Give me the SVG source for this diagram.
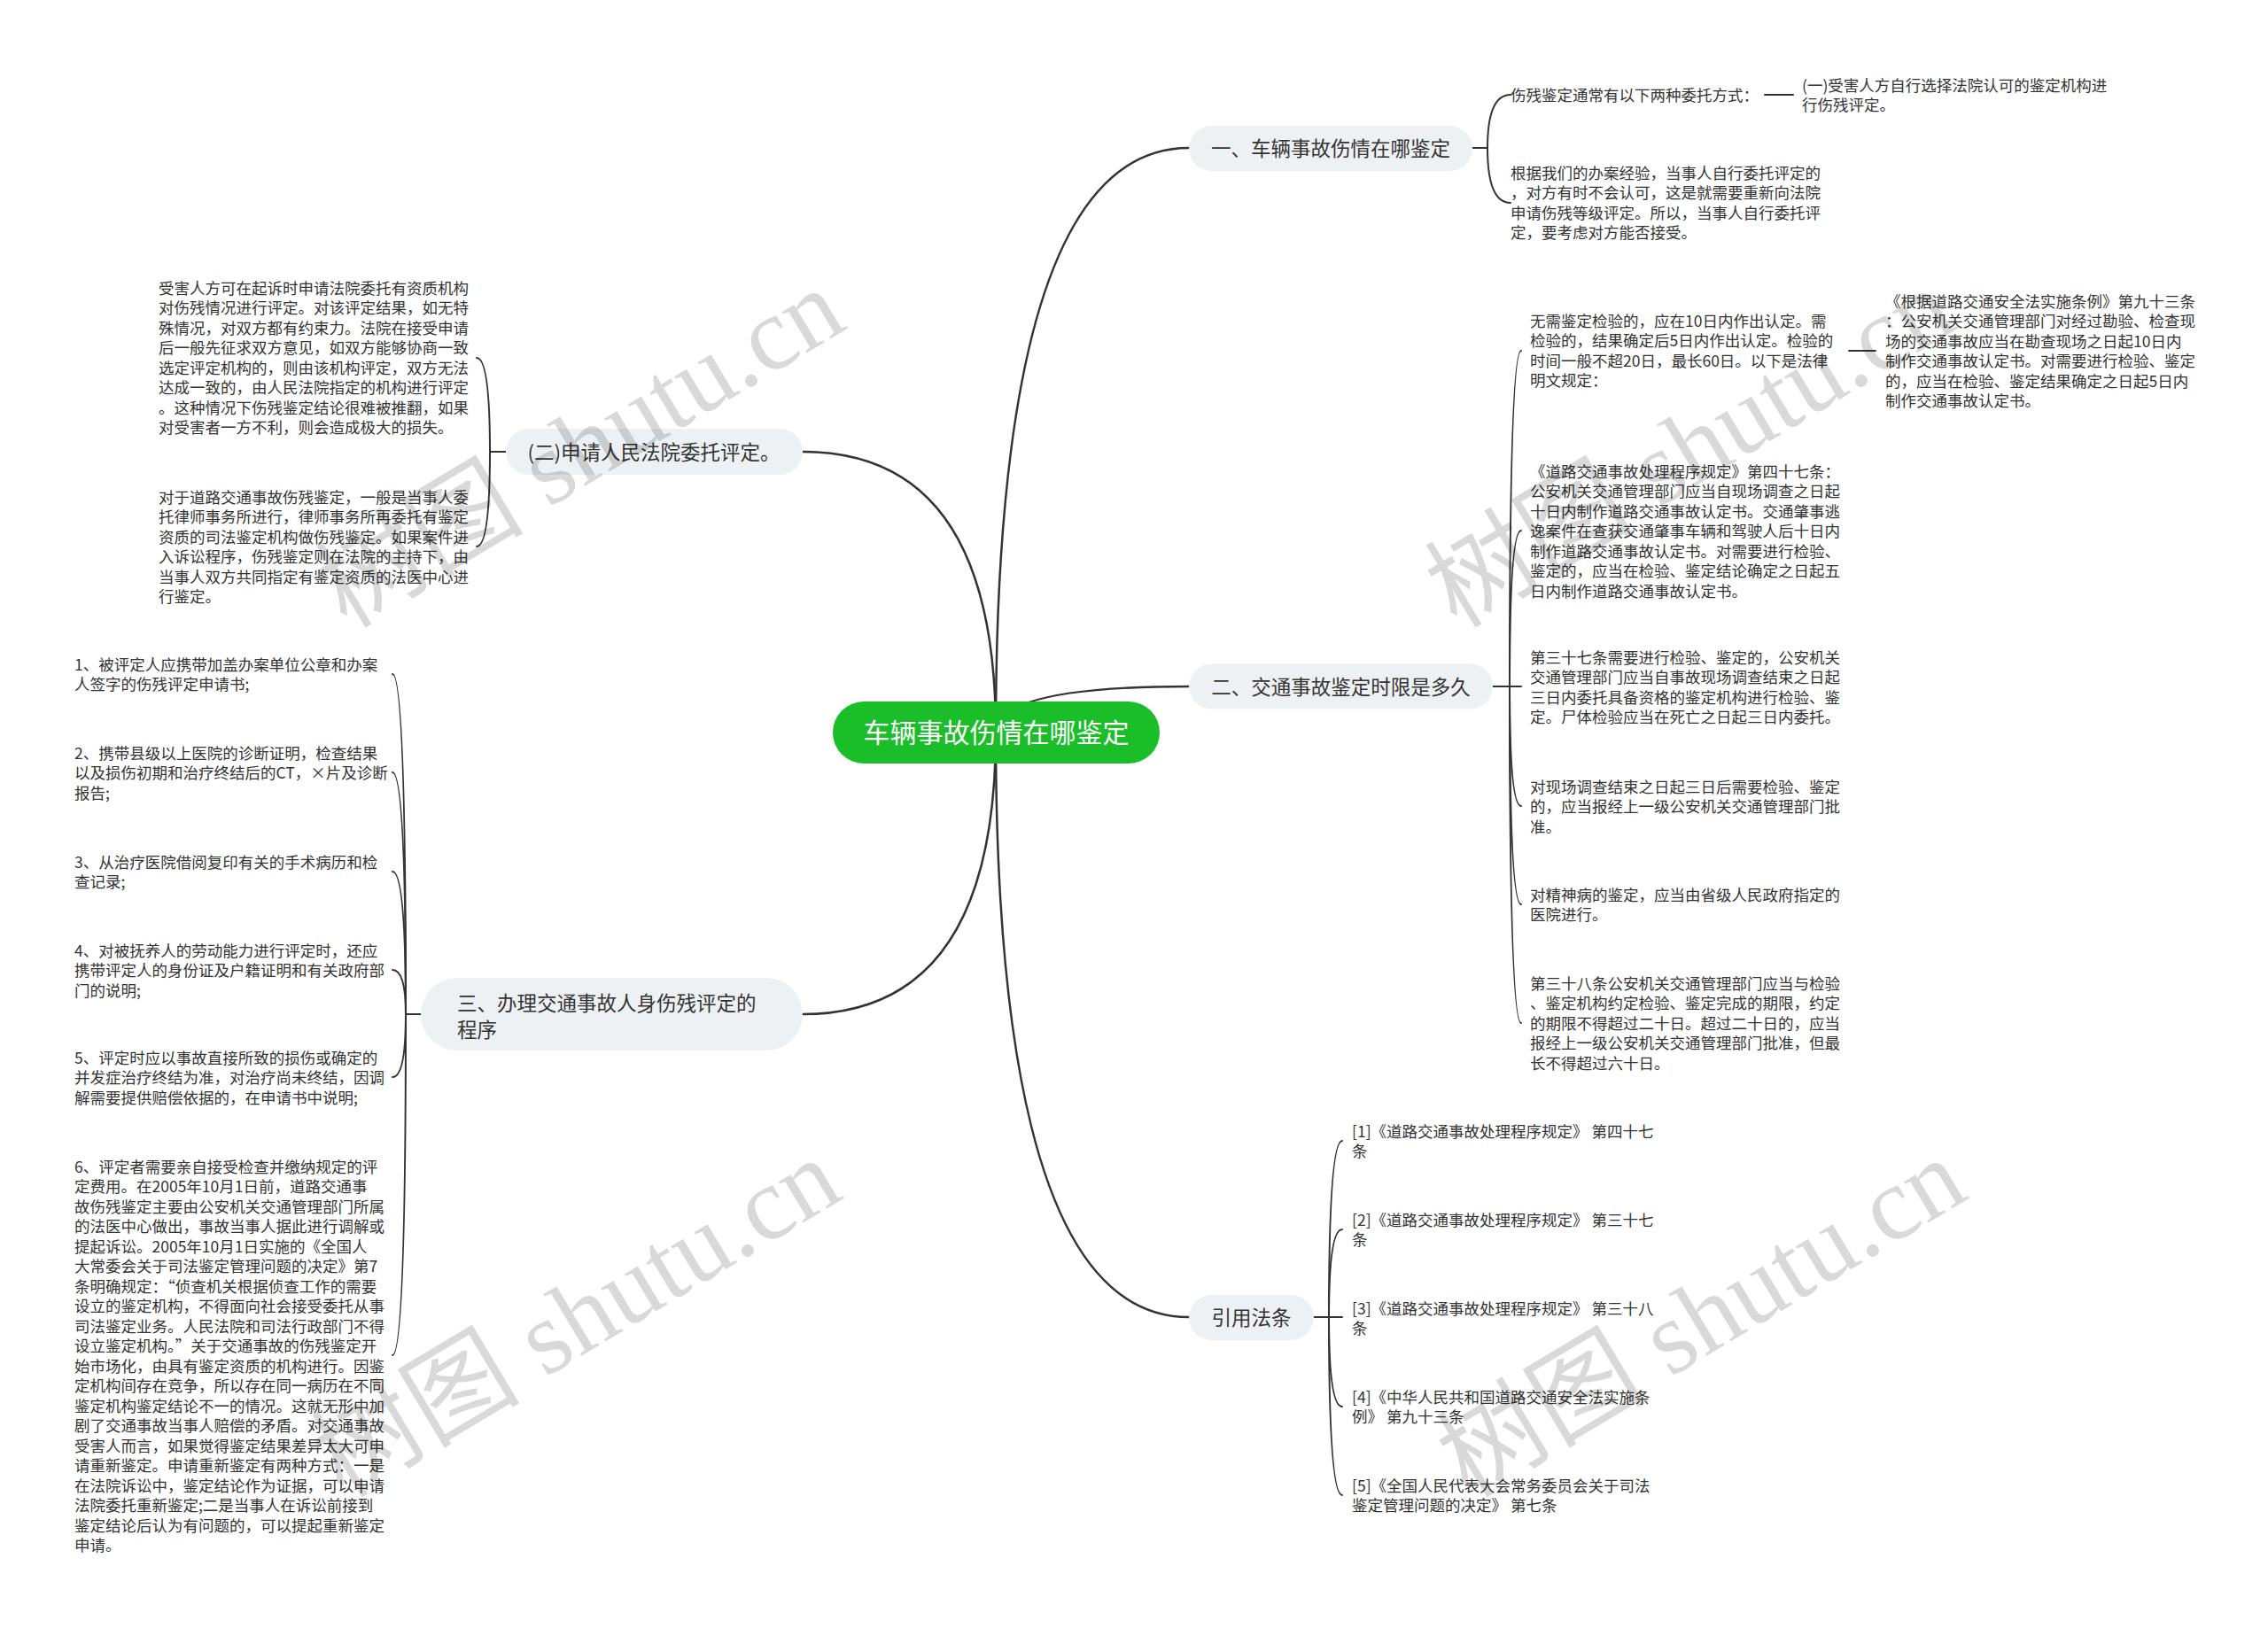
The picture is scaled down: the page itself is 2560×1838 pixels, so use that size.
<svg xmlns="http://www.w3.org/2000/svg" width="2560" height="1838" viewBox="0 0 2560 1838">
<style>
.bg{fill:#ffffff}
.edge{fill:none;stroke:#333333;stroke-width:2.5;stroke-linecap:round}
.sub{fill:none;stroke:#333333;stroke-width:2;stroke-linecap:round}
.rootbox{fill:#1abe28}
.roottx{font-family:"Noto Sans CJK SC","Noto Sans",sans-serif;font-size:30px;fill:#ffffff;text-anchor:middle}
.l1box{fill:#eef1f4}
.l1tx{font-family:"Noto Sans CJK SC","Noto Sans",sans-serif;font-size:22.5px;fill:#333333}
.mid{text-anchor:middle}
.tx{font-family:"Noto Sans CJK SC","Noto Sans",sans-serif;font-size:17.5px;fill:#333333}
.wm{font-family:"Liberation Serif","Noto Sans CJK SC",serif;font-size:118px;fill:#000000;fill-opacity:0.15;text-anchor:middle}
</style>
<rect class="bg" x="0" y="0" width="2560" height="1838"/>

<g id="connectors">
  <path class="edge" d="M1124 827 Q1124 167 1342 167"/>
  <path class="edge" d="M1124 827 Q1124 775 1342 775"/>
  <path class="edge" d="M1124 827 Q1124 510 906 510"/>
  <path class="edge" d="M1124 827 Q1124 1145 906 1145"/>
  <path class="edge" d="M1124 827 Q1124 1487 1342 1487"/>

  <path class="sub" d="M1662 167 H1679"/>
  <path class="sub" d="M1679 167 Q1679 107 1705 107"/>
  <path class="sub" d="M1679 167 Q1679 229 1705 229"/>
  <path class="sub" d="M1992 107 H2024"/>

  <path class="sub" d="M1685 775 H1717"/>
  <path class="sub" d="M1704 775 Q1704 396 1717 396"/>
  <path class="sub" d="M1704 775 Q1704 599 1717 599"/>
  <path class="sub" d="M1704 775 Q1704 910 1717 910"/>
  <path class="sub" d="M1704 775 Q1704 1021 1717 1021"/>
  <path class="sub" d="M1704 775 Q1704 1155 1717 1155"/>
  <path class="sub" d="M2087 396 H2117"/>

  <path class="sub" d="M571 510 H553"/>
  <path class="sub" d="M553 510 Q553 404 538 404"/>
  <path class="sub" d="M553 510 Q553 617 538 617"/>

  <path class="sub" d="M475 1145 H458"/>
  <path class="sub" d="M458 1145 Q458 761 443 761"/>
  <path class="sub" d="M458 1145 Q458 872 443 872"/>
  <path class="sub" d="M458 1145 Q458 984 443 984"/>
  <path class="sub" d="M458 1145 Q458 1095 443 1095"/>
  <path class="sub" d="M458 1145 Q458 1216 443 1216"/>
  <path class="sub" d="M458 1145 Q458 1530 443 1530"/>

  <path class="sub" d="M1483 1487 H1515"/>
  <path class="sub" d="M1500 1487 Q1500 1288 1515 1288"/>
  <path class="sub" d="M1500 1487 Q1500 1388 1515 1388"/>
  <path class="sub" d="M1500 1487 Q1500 1588 1515 1588"/>
  <path class="sub" d="M1500 1487 Q1500 1688 1515 1688"/>
</g>

<g id="root">
  <rect class="rootbox" x="940" y="792" width="369" height="70" rx="35"/>
  <text class="roottx" x="1124.5" y="838">车辆事故伤情在哪鉴定</text>
</g>

<g id="n1">
  <rect class="l1box" x="1342" y="142" width="320" height="51" rx="25.5"/>
  <text class="l1tx mid" x="1502" y="176">一、车辆事故伤情在哪鉴定</text>
</g>
<g id="n1c1">
  <text class="tx" x="1705" y="113.6">伤残鉴定通常有以下两种委托方式：</text>
</g>
<g id="n1c1c1">
  <text class="tx" x="2034" y="102.6"><tspan x="2034">(一)受害人方自行选择法院认可的鉴定机构进</tspan><tspan x="2034" dy="22.5">行伤残评定。</tspan></text>
</g>
<g id="n1c2">
  <text class="tx" x="1705" y="201.6"><tspan x="1705">根据我们的办案经验，当事人自行委托评定的</tspan><tspan x="1705" dy="22.5">，对方有时不会认可，这是就需要重新向法院</tspan><tspan x="1705" dy="22.5">申请伤残等级评定。所以，当事人自行委托评</tspan><tspan x="1705" dy="22.5">定，要考虑对方能否接受。</tspan></text>
</g>

<g id="n2">
  <rect class="l1box" x="1342" y="749.5" width="343" height="51" rx="25.5"/>
  <text class="l1tx mid" x="1513.5" y="783.5">二、交通事故鉴定时限是多久</text>
</g>
<g id="n2c1">
  <text class="tx" x="1727" y="368.6"><tspan x="1727">无需鉴定检验的，应在10日内作出认定。需</tspan><tspan x="1727" dy="22.5">检验的，结果确定后5日内作出认定。检验的</tspan><tspan x="1727" dy="22.5">时间一般不超20日，最长60日。以下是法律</tspan><tspan x="1727" dy="22.5">明文规定：</tspan></text>
</g>
<g id="n2c1c1">
  <text class="tx" x="2128" y="346.6"><tspan x="2128">《根据道路交通安全法实施条例》第九十三条</tspan><tspan x="2128" dy="22.5">：公安机关交通管理部门对经过勘验、检查现</tspan><tspan x="2128" dy="22.5">场的交通事故应当在勘查现场之日起10日内</tspan><tspan x="2128" dy="22.5">制作交通事故认定书。对需要进行检验、鉴定</tspan><tspan x="2128" dy="22.5">的，应当在检验、鉴定结果确定之日起5日内</tspan><tspan x="2128" dy="22.5">制作交通事故认定书。</tspan></text>
</g>
<g id="n2c2">
  <text class="tx" x="1727" y="538.6"><tspan x="1727">《道路交通事故处理程序规定》第四十七条：</tspan><tspan x="1727" dy="22.5">公安机关交通管理部门应当自现场调查之日起</tspan><tspan x="1727" dy="22.5">十日内制作道路交通事故认定书。交通肇事逃</tspan><tspan x="1727" dy="22.5">逸案件在查获交通肇事车辆和驾驶人后十日内</tspan><tspan x="1727" dy="22.5">制作道路交通事故认定书。对需要进行检验、</tspan><tspan x="1727" dy="22.5">鉴定的，应当在检验、鉴定结论确定之日起五</tspan><tspan x="1727" dy="22.5">日内制作道路交通事故认定书。</tspan></text>
</g>
<g id="n2c3">
  <text class="tx" x="1727" y="748.6"><tspan x="1727">第三十七条需要进行检验、鉴定的，公安机关</tspan><tspan x="1727" dy="22.5">交通管理部门应当自事故现场调查结束之日起</tspan><tspan x="1727" dy="22.5">三日内委托具备资格的鉴定机构进行检验、鉴</tspan><tspan x="1727" dy="22.5">定。尸体检验应当在死亡之日起三日内委托。</tspan></text>
</g>
<g id="n2c4">
  <text class="tx" x="1727" y="894.6"><tspan x="1727">对现场调查结束之日起三日后需要检验、鉴定</tspan><tspan x="1727" dy="22.5">的，应当报经上一级公安机关交通管理部门批</tspan><tspan x="1727" dy="22.5">准。</tspan></text>
</g>
<g id="n2c5">
  <text class="tx" x="1727" y="1016.6"><tspan x="1727">对精神病的鉴定，应当由省级人民政府指定的</tspan><tspan x="1727" dy="22.5">医院进行。</tspan></text>
</g>
<g id="n2c6">
  <text class="tx" x="1727" y="1116.6"><tspan x="1727">第三十八条公安机关交通管理部门应当与检验</tspan><tspan x="1727" dy="22.5">、鉴定机构约定检验、鉴定完成的期限，约定</tspan><tspan x="1727" dy="22.5">的期限不得超过二十日。超过二十日的，应当</tspan><tspan x="1727" dy="22.5">报经上一级公安机关交通管理部门批准，但最</tspan><tspan x="1727" dy="22.5">长不得超过六十日。</tspan></text>
</g>

<g id="n3">
  <rect class="l1box" x="571" y="484" width="335" height="52" rx="26"/>
  <text class="l1tx mid" x="738" y="518.5">(二)申请人民法院委托评定。</text>
</g>
<g id="n3c1">
  <text class="tx" x="179" y="331.6"><tspan x="179">受害人方可在起诉时申请法院委托有资质机构</tspan><tspan x="179" dy="22.5">对伤残情况进行评定。对该评定结果，如无特</tspan><tspan x="179" dy="22.5">殊情况，对双方都有约束力。法院在接受申请</tspan><tspan x="179" dy="22.5">后一般先征求双方意见，如双方能够协商一致</tspan><tspan x="179" dy="22.5">选定评定机构的，则由该机构评定，双方无法</tspan><tspan x="179" dy="22.5">达成一致的，由人民法院指定的机构进行评定</tspan><tspan x="179" dy="22.5">。这种情况下伤残鉴定结论很难被推翻，如果</tspan><tspan x="179" dy="22.5">对受害者一方不利，则会造成极大的损失。</tspan></text>
</g>
<g id="n3c2">
  <text class="tx" x="179" y="567.6"><tspan x="179">对于道路交通事故伤残鉴定，一般是当事人委</tspan><tspan x="179" dy="22.5">托律师事务所进行，律师事务所再委托有鉴定</tspan><tspan x="179" dy="22.5">资质的司法鉴定机构做伤残鉴定。如果案件进</tspan><tspan x="179" dy="22.5">入诉讼程序，伤残鉴定则在法院的主持下，由</tspan><tspan x="179" dy="22.5">当事人双方共同指定有鉴定资质的法医中心进</tspan><tspan x="179" dy="22.5">行鉴定。</tspan></text>
</g>

<g id="n4">
  <rect class="l1box" x="475" y="1104" width="431" height="82" rx="41"/>
  <text class="l1tx" x="516" y="1140.5"><tspan x="516">三、办理交通事故人身伤残评定的</tspan><tspan x="516" dy="30">程序</tspan></text>
</g>
<g id="n4c1">
  <text class="tx" x="84" y="756.6"><tspan x="84">1、被评定人应携带加盖办案单位公章和办案</tspan><tspan x="84" dy="22.5">人签字的伤残评定申请书;</tspan></text>
</g>
<g id="n4c2">
  <text class="tx" x="84" y="856.6"><tspan x="84">2、携带县级以上医院的诊断证明，检查结果</tspan><tspan x="84" dy="22.5">以及损伤初期和治疗终结后的CT，×片及诊断</tspan><tspan x="84" dy="22.5">报告;</tspan></text>
</g>
<g id="n4c3">
  <text class="tx" x="84" y="979.6"><tspan x="84">3、从治疗医院借阅复印有关的手术病历和检</tspan><tspan x="84" dy="22.5">查记录;</tspan></text>
</g>
<g id="n4c4">
  <text class="tx" x="84" y="1079.6"><tspan x="84">4、对被抚养人的劳动能力进行评定时，还应</tspan><tspan x="84" dy="22.5">携带评定人的身份证及户籍证明和有关政府部</tspan><tspan x="84" dy="22.5">门的说明;</tspan></text>
</g>
<g id="n4c5">
  <text class="tx" x="84" y="1200.6"><tspan x="84">5、评定时应以事故直接所致的损伤或确定的</tspan><tspan x="84" dy="22.5">并发症治疗终结为准，对治疗尚未终结，因调</tspan><tspan x="84" dy="22.5">解需要提供赔偿依据的，在申请书中说明;</tspan></text>
</g>
<g id="n4c6">
  <text class="tx" x="84" y="1323.6"><tspan x="84">6、评定者需要亲自接受检查并缴纳规定的评</tspan><tspan x="84" dy="22.5">定费用。在2005年10月1日前，道路交通事</tspan><tspan x="84" dy="22.5">故伤残鉴定主要由公安机关交通管理部门所属</tspan><tspan x="84" dy="22.5">的法医中心做出，事故当事人据此进行调解或</tspan><tspan x="84" dy="22.5">提起诉讼。2005年10月1日实施的《全国人</tspan><tspan x="84" dy="22.5">大常委会关于司法鉴定管理问题的决定》第7</tspan><tspan x="84" dy="22.5">条明确规定：“侦查机关根据侦查工作的需要</tspan><tspan x="84" dy="22.5">设立的鉴定机构，不得面向社会接受委托从事</tspan><tspan x="84" dy="22.5">司法鉴定业务。人民法院和司法行政部门不得</tspan><tspan x="84" dy="22.5">设立鉴定机构。”关于交通事故的伤残鉴定开</tspan><tspan x="84" dy="22.5">始市场化，由具有鉴定资质的机构进行。因鉴</tspan><tspan x="84" dy="22.5">定机构间存在竞争，所以存在同一病历在不同</tspan><tspan x="84" dy="22.5">鉴定机构鉴定结论不一的情况。这就无形中加</tspan><tspan x="84" dy="22.5">剧了交通事故当事人赔偿的矛盾。对交通事故</tspan><tspan x="84" dy="22.5">受害人而言，如果觉得鉴定结果差异太大可申</tspan><tspan x="84" dy="22.5">请重新鉴定。申请重新鉴定有两种方式：一是</tspan><tspan x="84" dy="22.5">在法院诉讼中，鉴定结论作为证据，可以申请</tspan><tspan x="84" dy="22.5">法院委托重新鉴定;二是当事人在诉讼前接到</tspan><tspan x="84" dy="22.5">鉴定结论后认为有问题的，可以提起重新鉴定</tspan><tspan x="84" dy="22.5">申请。</tspan></text>
</g>

<g id="n5">
  <rect class="l1box" x="1342" y="1462" width="141" height="51" rx="25.5"/>
  <text class="l1tx mid" x="1412.5" y="1495.5">引用法条</text>
</g>
<g id="n5c1">
  <text class="tx" x="1526" y="1283.6"><tspan x="1526">[1]《道路交通事故处理程序规定》 第四十七</tspan><tspan x="1526" dy="22.5">条</tspan></text>
</g>
<g id="n5c2">
  <text class="tx" x="1526" y="1383.6"><tspan x="1526">[2]《道路交通事故处理程序规定》 第三十七</tspan><tspan x="1526" dy="22.5">条</tspan></text>
</g>
<g id="n5c3">
  <text class="tx" x="1526" y="1483.6"><tspan x="1526">[3]《道路交通事故处理程序规定》 第三十八</tspan><tspan x="1526" dy="22.5">条</tspan></text>
</g>
<g id="n5c4">
  <text class="tx" x="1526" y="1583.6"><tspan x="1526">[4]《中华人民共和国道路交通安全法实施条</tspan><tspan x="1526" dy="22.5">例》 第九十三条</tspan></text>
</g>
<g id="n5c5">
  <text class="tx" x="1526" y="1683.6"><tspan x="1526">[5]《全国人民代表大会常务委员会关于司法</tspan><tspan x="1526" dy="22.5">鉴定管理问题的决定》 第七条</tspan></text>
</g>

<g id="watermarks">
  <text class="wm" transform="translate(675 540) rotate(-31)">树图 shutu.cn</text>
  <text class="wm" transform="translate(1928 540) rotate(-31)">树图 shutu.cn</text>
  <text class="wm" transform="translate(671 1522) rotate(-31)">树图 shutu.cn</text>
  <text class="wm" transform="translate(1941 1522) rotate(-31)">树图 shutu.cn</text>
</g>
</svg>
